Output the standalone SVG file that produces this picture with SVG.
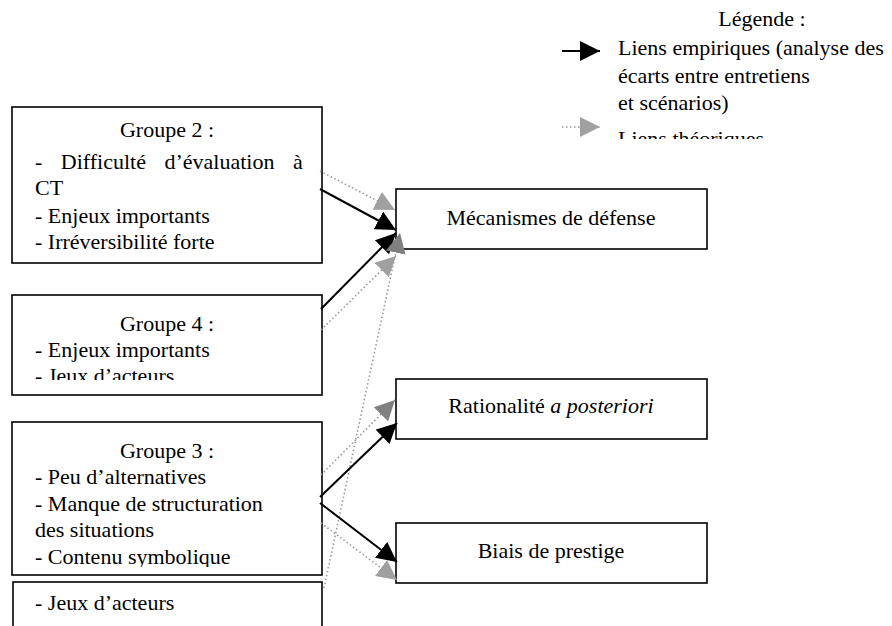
<svg xmlns="http://www.w3.org/2000/svg" width="892" height="626" viewBox="0 0 892 626">
<style>
text{font-family:"Liberation Serif","Times New Roman",serif;font-size:22px;fill:#000}
.box{fill:#fff;stroke:#000;stroke-width:1.6}
.c{text-anchor:middle}
.emp{stroke:#000;stroke-width:2;fill:none}
.th{stroke:#999;stroke-width:1.6;stroke-dasharray:1.5 2.5;fill:none}
</style>
<defs>
<marker id="ab" markerUnits="userSpaceOnUse" markerWidth="20" markerHeight="20" refX="20" refY="10" orient="auto"><path d="M0,0 L20,10 L0,20 z" fill="#000"/></marker>
<marker id="ag" markerUnits="userSpaceOnUse" markerWidth="20" markerHeight="20" refX="20" refY="10" orient="auto"><path d="M0,0 L20,10 L0,20 z" fill="#a0a0a0"/></marker>
<marker id="ad" markerUnits="userSpaceOnUse" markerWidth="20" markerHeight="20" refX="20" refY="10" orient="auto"><path d="M0,0 L20,10 L0,20 z" fill="#808080"/></marker>
<clipPath id="clipLeg"><rect x="550" y="0" width="342" height="139"/></clipPath>
<clipPath id="clipG4"><rect x="12" y="295" width="311" height="85"/></clipPath>
<clipPath id="clipG3"><rect x="12" y="422" width="311" height="145"/></clipPath>
</defs>

<g id="legende" clip-path="url(#clipLeg)">
<text class="c" x="762" y="26">Légende :</text>
<line class="emp" x1="562" y1="51" x2="600" y2="51" marker-end="url(#ab)"/>
<text x="618" y="55">Liens empiriques (analyse des</text>
<text x="618" y="83">écarts entre entretiens</text>
<text x="618" y="110">et scénarios)</text>
<line class="th" x1="562" y1="127" x2="600" y2="127" marker-end="url(#ag)"/>
<text x="618" y="146">Liens théoriques</text>
</g>

<g id="groupe2">
<rect class="box" x="12" y="107" width="310" height="156"/>
<text class="c" x="167" y="137">Groupe 2 :</text>
<text x="35" y="169" word-spacing="13">- Difficulté d’évaluation à</text>
<text x="35" y="195">CT</text>
<text x="35" y="223">- Enjeux importants</text>
<text x="35" y="249">- Irréversibilité forte</text>
</g>

<g id="groupe4">
<rect class="box" x="12" y="295" width="310" height="100"/>
<g clip-path="url(#clipG4)">
<text class="c" x="167" y="331">Groupe 4 :</text>
<text x="35" y="357">- Enjeux importants</text>
<text x="35" y="383">- Jeux d’acteurs</text>
</g>
</g>

<g id="groupe3">
<rect class="box" x="12" y="422" width="310" height="153"/>
<g clip-path="url(#clipG3)">
<text class="c" x="167" y="458">Groupe 3 :</text>
<text x="35" y="484">- Peu d’alternatives</text>
<text x="35" y="511">- Manque de structuration</text>
<text x="35" y="537">des situations</text>
<text x="35" y="564">- Contenu symbolique</text>
</g>
</g>

<g id="groupe3-suite">
<rect class="box" x="13" y="582" width="309" height="60"/>
<text x="35" y="610">- Jeux d’acteurs</text>
</g>

<g id="mecanismes">
<rect class="box" x="396" y="189" width="311" height="60"/>
<text class="c" x="551" y="225">Mécanismes de défense</text>
</g>

<g id="rationalite">
<rect class="box" x="396" y="379" width="311" height="60"/>
<text class="c" x="551" y="413">Rationalité <tspan font-style="italic">a posteriori</tspan></text>
</g>

<g id="biais">
<rect class="box" x="396" y="523" width="311" height="60"/>
<text class="c" x="551" y="558">Biais de prestige</text>
</g>

<g id="connecteurs">
<line class="th" x1="320" y1="171" x2="395" y2="210" marker-end="url(#ag)"/>
<line class="emp" x1="320" y1="189" x2="396" y2="230" marker-end="url(#ab)"/>
<line class="th" x1="321" y1="330" x2="396" y2="256" marker-end="url(#ag)"/>
<line class="emp" x1="321" y1="309" x2="396" y2="233" marker-end="url(#ab)"/>
<line class="th" x1="324" y1="588" x2="400" y2="233" marker-end="url(#ad)"/>
<line class="th" x1="321" y1="475" x2="395" y2="400" marker-end="url(#ad)"/>
<line class="emp" x1="320" y1="497" x2="397" y2="423" marker-end="url(#ab)"/>
<line class="emp" x1="320" y1="503" x2="397" y2="562" marker-end="url(#ab)"/>
<line class="th" x1="321" y1="523" x2="397" y2="580" marker-end="url(#ag)"/>
</g>
</svg>
